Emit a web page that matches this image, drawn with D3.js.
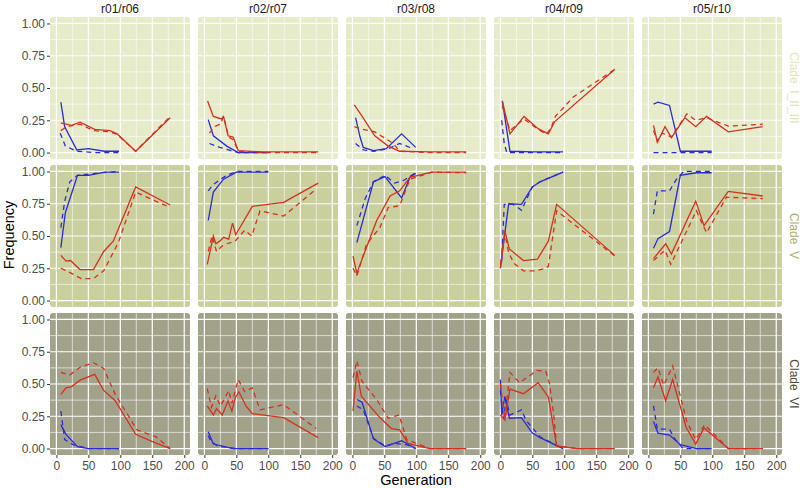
<!DOCTYPE html>
<html><head><meta charset="utf-8">
<script src="https://cdn.jsdelivr.net/npm/d3@7"></script>
<style>
body{margin:0;background:#fff;}
svg{font-family:"Liberation Sans",Arial,Helvetica,sans-serif;}
</style></head>
<body><svg id="c" width="800" height="488"></svg>
<script>
// ---- DATA ----
const replicates = ["r01/r06","r02/r07","r03/r08","r04/r09","r05/r10"];
const clades = ["Clade  I_II_III","Clade  V","Clade  VI"];
const xTicks = [0,50,100,150,200];
const yTicks = [0,0.25,0.5,0.75,1];
const yTickLabels = ["0.00","0.25","0.50","0.75","1.00"];

// each array: one list of [generation, frequency] per replicate column
const c1BlueSolid = [
  [[7,0.39],[13,0.20],[32,0.02],[50,0.03],[75,0.01],[98,0.01]],
  [[6,0.255],[14,0.13],[35,0.05],[53,0.0],[100,0.0]],
  [[5,0.27],[12,0.12],[17,0.04],[33,0.015],[53,0.03],[77,0.145],[99,0.04]],
  [[3,0.40],[15,0.01],[50,0.005],[98,0.005]],
  [[8,0.375],[15,0.39],[33,0.365],[50,0.01],[99,0.01]]
];
const c1BlueDashed = [
  [[6,0.15],[14,0.05],[32,0.01],[60,0.0],[98,0.0]],
  [[8,0.07],[24,0.04],[53,0.0],[100,0.0]],
  [[5,0.07],[17,0.02],[33,0.01],[56,0.03],[74,0.07],[95,0.03]],
  [[2,0.25],[6,0.07],[10,0.0],[98,0.0]],
  [[8,0.0],[33,0.0],[50,0.0],[99,0.0]]
];
const c1RedSolid = [
  [[7,0.23],[24,0.21],[37,0.235],[60,0.18],[84,0.17],[95,0.145],[124,0.01],[178,0.27]],
  [[5,0.40],[14,0.28],[27,0.26],[30,0.28],[37,0.13],[45,0.12],[53,0.015],[90,0.005],[178,0.005]],
  [[3,0.37],[14,0.29],[35,0.13],[56,0.05],[74,0.01],[120,0.005],[178,0.005]],
  [[3,0.40],[15,0.145],[37,0.28],[59,0.185],[75,0.145],[85,0.24],[179,0.645]],
  [[8,0.21],[14,0.08],[26,0.2],[36,0.115],[57,0.27],[74,0.2],[91,0.28],[125,0.16],[179,0.2]]
];
const c1RedDashed = [
  [[7,0.17],[16,0.2],[37,0.22],[58,0.17],[84,0.16],[95,0.14],[124,0.01],[178,0.28]],
  [[8,0.15],[15,0.2],[25,0.22],[30,0.28],[38,0.12],[45,0.1],[53,0.01],[100,0.0],[178,0.0]],
  [[3,0.2],[12,0.185],[35,0.16],[64,0.07],[74,0.01],[120,0.0],[178,0.0]],
  [[3,0.36],[15,0.17],[37,0.26],[59,0.18],[72,0.14],[80,0.2],[86,0.28],[114,0.43],[179,0.645]],
  [[8,0.17],[14,0.09],[22,0.15],[36,0.12],[60,0.3],[74,0.25],[91,0.27],[125,0.205],[179,0.22]]
];

const c2BlueSolid = [
  [[7,0.41],[14,0.68],[33,0.97],[50,0.97],[76,0.995],[98,0.995]],
  [[6,0.62],[14,0.84],[30,0.94],[50,0.995],[100,0.995]],
  [[7,0.45],[12,0.54],[33,0.92],[51,0.96],[77,0.795],[90,0.955],[99,0.985]],
  [[0,0.25],[4,0.41],[13,0.75],[33,0.745],[50,0.88],[62,0.92],[98,0.995]],
  [[8,0.405],[15,0.48],[33,0.535],[50,0.97],[75,0.99],[99,0.99]]
];
const c2BlueDashed = [
  [[7,0.565],[13,0.77],[21,0.92],[33,0.97],[70,0.99],[98,1.0]],
  [[6,0.85],[14,0.9],[35,0.97],[50,1.0],[100,1.0]],
  [[7,0.58],[20,0.79],[33,0.92],[51,0.97],[66,0.91],[80,0.93],[99,0.99]],
  [[2,0.3],[6,0.745],[20,0.745],[33,0.7],[50,0.88],[62,0.92],[98,0.995]],
  [[8,0.67],[14,0.85],[33,0.85],[44,0.94],[55,1.0],[99,1.0]]
];
const c2RedSolid = [
  [[7,0.35],[15,0.305],[22,0.31],[37,0.24],[58,0.24],[74,0.38],[89,0.46],[124,0.88],[178,0.74]],
  [[4.5,0.28],[14,0.5],[18,0.44],[24,0.46],[30,0.49],[38,0.475],[44,0.6],[49,0.51],[75,0.73],[124,0.76],[178,0.91]],
  [[1,0.345],[7,0.21],[12,0.28],[38,0.62],[59,0.81],[74,0.85],[90,0.955],[124,0.995],[178,0.995]],
  [[0,0.25],[7,0.54],[14,0.40],[36,0.31],[58,0.32],[75,0.46],[88,0.745],[179,0.35]],
  [[8,0.325],[27,0.44],[36,0.36],[74,0.77],[87,0.58],[125,0.845],[179,0.81]]
];
const c2RedDashed = [
  [[7,0.25],[16,0.23],[39,0.17],[58,0.17],[74,0.23],[97,0.45],[124,0.84],[178,0.72]],
  [[6,0.38],[12,0.5],[19,0.38],[27,0.42],[35,0.44],[48,0.46],[63,0.545],[74,0.5],[87,0.695],[124,0.655],[175,0.865]],
  [[1,0.25],[7,0.19],[22,0.435],[43,0.565],[56,0.72],[74,0.735],[90,0.94],[124,0.995],[178,0.99]],
  [[0,0.28],[7,0.52],[13,0.37],[21,0.29],[36,0.23],[55,0.23],[71,0.25],[75,0.265],[88,0.695],[179,0.345]],
  [[8,0.31],[26,0.39],[35,0.28],[75,0.695],[91,0.525],[122,0.8],[179,0.79]]
];

const c3BlueSolid = [
  [[7,0.185],[15,0.11],[33,0.015],[50,0.0],[98,0.0]],
  [[6,0.13],[14,0.035],[45,0.0],[100,0.0]],
  [[7,0.38],[15,0.36],[33,0.075],[51,0.015],[77,0.06],[99,0.0]],
  [[0,0.535],[2,0.26],[7,0.405],[14,0.235],[33,0.24],[50,0.12],[62,0.085],[98,0.0]],
  [[8,0.21],[15,0.12],[33,0.105],[50,0.03],[75,0.0],[99,0.0]]
];
const c3BlueDashed = [
  [[7,0.29],[13,0.07],[26,0.03],[50,0.0],[98,0.0]],
  [[6,0.1],[10,0.06],[20,0.02],[50,0.0],[100,0.0]],
  [[7,0.33],[17,0.3],[33,0.08],[51,0.02],[66,0.04],[85,0.03],[99,0.0]],
  [[0,0.45],[5,0.23],[9,0.38],[15,0.26],[33,0.3],[40,0.22],[62,0.09],[98,0.0]],
  [[8,0.33],[14,0.15],[33,0.15],[42,0.07],[54,0.0],[99,0.0]]
];
const c3RedSolid = [
  [[7,0.42],[15,0.47],[24,0.48],[37,0.53],[60,0.575],[74,0.45],[92,0.37],[124,0.11],[152,0.05],[178,0.0]],
  [[4.5,0.33],[14,0.26],[19,0.31],[28,0.26],[37,0.37],[43,0.29],[48,0.39],[54,0.44],[65,0.33],[75,0.27],[124,0.24],[178,0.085]],
  [[1,0.29],[7,0.6],[14,0.405],[43,0.24],[61,0.155],[74,0.145],[87,0.04],[121,0.0],[178,0.0]],
  [[0,0.26],[7,0.22],[15,0.46],[36,0.425],[59,0.51],[75,0.40],[88,0.02],[120,0.0],[179,0.0]],
  [[8,0.47],[15,0.555],[27,0.37],[38,0.535],[59,0.165],[74,0.035],[87,0.16],[125,0.0],[179,0.0]]
];
const c3RedDashed = [
  [[7,0.59],[21,0.57],[37,0.63],[58,0.665],[74,0.62],[92,0.42],[126,0.145],[156,0.09],[178,0.0]],
  [[4.5,0.465],[11,0.32],[18,0.41],[25,0.33],[31,0.38],[38,0.45],[43,0.35],[53,0.535],[63,0.44],[75,0.47],[87,0.3],[124,0.34],[175,0.155]],
  [[1,0.55],[7,0.68],[15,0.52],[38,0.38],[56,0.235],[73,0.26],[85,0.07],[121,0.0],[178,0.0]],
  [[0,0.5],[7,0.23],[15,0.59],[30,0.51],[57,0.605],[71,0.6],[77,0.5],[84,0.235],[88,0.02],[120,0.0],[179,0.0]],
  [[8,0.59],[15,0.625],[24,0.49],[38,0.64],[60,0.21],[74,0.07],[88,0.185],[125,0.0],[179,0.0]]
];

const cladeData = [
  {bs:c1BlueSolid, bd:c1BlueDashed, rs:c1RedSolid, rd:c1RedDashed},
  {bs:c2BlueSolid, bd:c2BlueDashed, rs:c2RedSolid, rd:c2RedDashed},
  {bs:c3BlueSolid, bd:c3BlueDashed, rs:c3RedSolid, rd:c3RedDashed}
];

// ---- STYLE / LAYOUT ----
const panelBg = ["#e6ebc9","#c9cf9d","#a2a28b"];
const stripColor = ["#dfe4b6","#a9b06b","#4a4a3a"];
const blue = "#2b2bd6", red = "#d3311f";
const mLeft = 50, mTop = 17, pw = 140, ph = 142, gapX = 8, gapY = 6;
const FONT = "'Liberation Sans',Arial,sans-serif";

const svg = d3.select("#c");

for (let r = 0; r < 3; r++) {
  for (let c = 0; c < 5; c++) {
    const x0 = mLeft + c*(pw+gapX), y0 = mTop + r*(ph+gapY);
    const x = d3.scaleLinear().domain([-10, 209]).range([x0, x0+pw]);
    const y = d3.scaleLinear().domain([-0.05, 1.05]).range([y0+ph, y0]);
    const g = svg.append("g");
    g.append("rect").attr("x", x0).attr("y", y0).attr("width", pw).attr("height", ph)
      .attr("rx", 3).attr("fill", panelBg[r]);
    // minor grid
    [25,75,125,175].forEach(v => g.append("line").attr("x1", x(v)).attr("x2", x(v))
      .attr("y1", y0).attr("y2", y0+ph).attr("stroke","#fff").attr("stroke-width",0.6));
    [0.125,0.375,0.625,0.875].forEach(v => g.append("line").attr("y1", y(v)).attr("y2", y(v))
      .attr("x1", x0).attr("x2", x0+pw).attr("stroke","#fff").attr("stroke-width",0.6));
    // major grid
    xTicks.forEach(v => g.append("line").attr("x1", x(v)).attr("x2", x(v))
      .attr("y1", y0).attr("y2", y0+ph).attr("stroke","#fff").attr("stroke-width",1.2));
    yTicks.forEach(v => g.append("line").attr("y1", y(v)).attr("y2", y(v))
      .attr("x1", x0).attr("x2", x0+pw).attr("stroke","#fff").attr("stroke-width",1.2));

    const line = d3.line().x(d => x(d[0])).y(d => y(d[1]));
    const D = cladeData[r];
    const series = [
      {d:D.bd[c], col:blue, dash:"5,4"},
      {d:D.bs[c], col:blue, dash:null},
      {d:D.rd[c], col:red, dash:"5,4"},
      {d:D.rs[c], col:red, dash:null}
    ];
    series.forEach(s => {
      g.append("path").datum(s.d).attr("d", line).attr("fill","none")
        .attr("stroke", s.col).attr("stroke-width",1.3)
        .attr("stroke-dasharray", s.dash);
    });

    if (c === 0) {
      const ax = svg.append("g").attr("transform",`translate(${x0},0)`)
        .call(d3.axisLeft(y).tickValues(yTicks).tickFormat((d,i)=>yTickLabels[i]).tickSize(3).tickPadding(2));
      ax.select(".domain").remove();
      ax.selectAll("line").attr("stroke","#333");
      ax.selectAll("text").attr("fill","#4d4d4d").style("font-size","12px").style("font-family",FONT);
    }
    if (r === 2) {
      const ax = svg.append("g").attr("transform",`translate(0,${y0+ph})`)
        .call(d3.axisBottom(x).tickValues(xTicks).tickFormat(d3.format("d")).tickSize(3).tickPadding(3));
      ax.select(".domain").remove();
      ax.selectAll("line").attr("stroke","#333");
      ax.selectAll("text").attr("fill","#4d4d4d").style("font-size","12px").style("font-family",FONT);
    }
    if (r === 0) {
      svg.append("text").attr("x", x0+pw/2).attr("y", 12.5).attr("text-anchor","middle")
        .attr("fill","#1a1a1a").style("font-size","12px").text(replicates[c]);
    }
  }
  const cy = mTop + r*(ph+gapY) + ph/2;
  svg.append("text").attr("transform",`translate(790,${cy}) rotate(90)`)
    .attr("text-anchor","middle").attr("fill", stripColor[r])
    .style("font-size","12px").style("white-space","pre").text(clades[r]);
}

svg.append("text").attr("transform",`translate(14,235) rotate(-90)`).attr("text-anchor","middle")
  .attr("fill","#000").style("font-size","14.5px").text("Frequency");
svg.append("text").attr("x",416).attr("y",485).attr("text-anchor","middle")
  .attr("fill","#000").style("font-size","14.5px").text("Generation");
</script></body></html>
